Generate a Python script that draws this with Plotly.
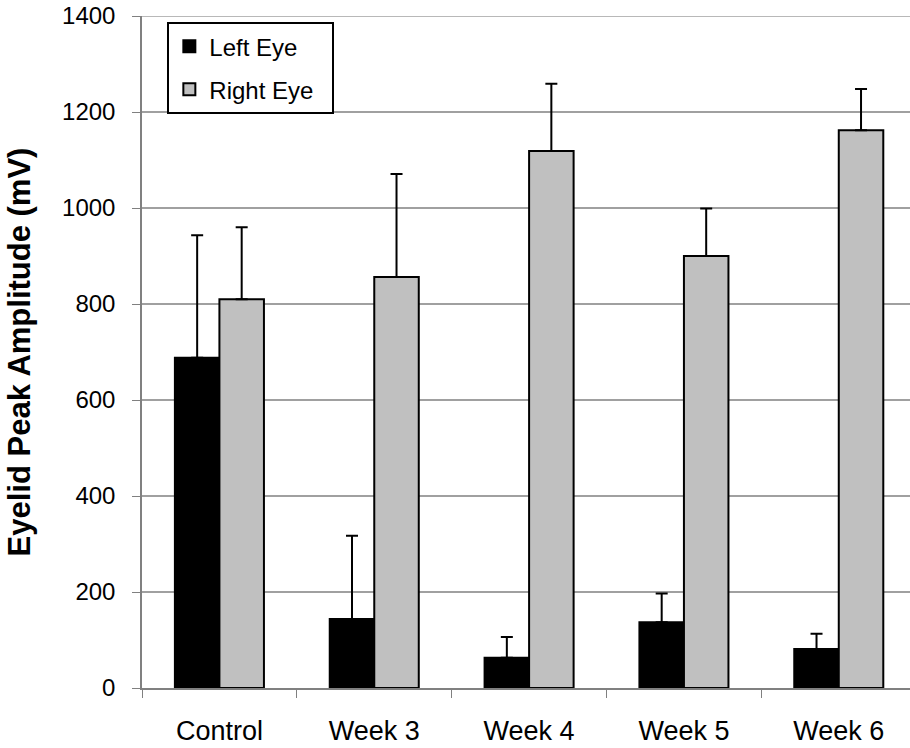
import plotly.graph_objects as go

categories = ["Control", "Week 3", "Week 4", "Week 5", "Week 6"]
left_eye = [688, 144, 63, 137, 81]
left_eye_err = [255, 173, 43, 60, 32]
right_eye = [810, 856, 1119, 900, 1162]
right_eye_err = [150, 215, 140, 99, 86]
y_ticks = [0, 200, 400, 600, 800, 1000, 1200, 1400]

font_family = "Liberation Sans, Arial, sans-serif"
grid_color = "#a0a0a0"

fig = go.Figure()
fig.add_trace(go.Bar(
    x=categories, y=left_eye, name="Left Eye\u00a0\u00a0", legendgroup="left",
    marker=dict(color="#000000", line=dict(color="#000000", width=2)),
    error_y=dict(type="data", array=left_eye_err, arrayminus=[0]*5, symmetric=False,
                 color="#000000", thickness=2, width=6),
))
fig.add_trace(go.Bar(
    x=categories, y=right_eye, name="Right Eye\u00a0\u00a0", legendgroup="right",
    marker=dict(color="#c0c0c0", line=dict(color="#000000", width=2)),
    error_y=dict(type="data", array=right_eye_err, arrayminus=[0]*5, symmetric=False,
                 color="#000000", thickness=2, width=6),
))

# top gridline at the axis maximum
fig.add_shape(type="line", xref="paper", x0=0, x1=1, yref="y",
              y0=y_ticks[-1], y1=y_ticks[-1], layer="below",
              line=dict(color=grid_color, width=1.5))

fig.update_layout(
    width=910, height=748,
    margin=dict(l=142, r=0, t=16, b=60, autoexpand=False),
    plot_bgcolor="white", paper_bgcolor="white",
    barmode="group", bargap=0.425, bargroupgap=0,
    font=dict(family=font_family, color="#000000"),
    showlegend=True,
    legend=dict(
        x=0.033, y=0.991, xanchor="left", yanchor="top",
        bgcolor="white", bordercolor="#000000", borderwidth=2,
        font=dict(size=24, family=font_family),
        traceorder="grouped", tracegroupgap=9,
        itemwidth=30,
    ),
    xaxis=dict(
        range=[-0.5, 4.46],
        showline=True, linecolor="#808080", linewidth=1.5,
        ticks="outside", tickson="boundaries", ticklen=8, tickcolor="#808080",
        tickfont=dict(size=27, family=font_family), ticklabelstandoff=18,
        showgrid=False,
    ),
    yaxis=dict(
        range=[0, 1400], tickvals=y_ticks,
        showline=True, linecolor="#808080", linewidth=1.5,
        ticks="outside", ticklen=8, tickcolor="#808080",
        tickfont=dict(size=24, family=font_family), ticklabelstandoff=12,
        ticklabeloverflow="allow",
        showgrid=True, gridcolor=grid_color, gridwidth=1.5,
        zeroline=False,
        title=dict(text="<b>Eyelid Peak Amplitude (mV)</b>",
                   font=dict(size=31, family=font_family), standoff=22),
    ),
)

fig.write_html("out.html", config={"displayModeBar": False},
               post_script="document.body.style.margin='0';")
